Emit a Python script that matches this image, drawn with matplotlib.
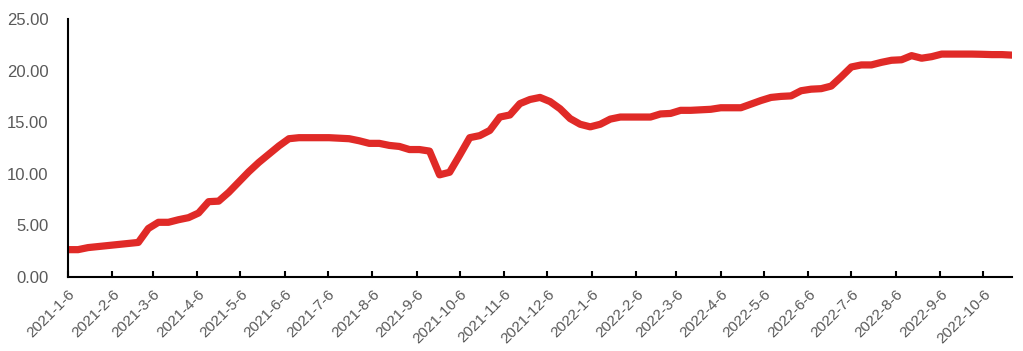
import matplotlib
matplotlib.use("Agg")
import matplotlib.pyplot as plt
import numpy as np
import pandas as pd

plt.rcParams['font.family'] = ['Liberation Sans', 'DejaVu Sans']

start_date = "2021-01-06"
n_weeks = 95
values = [
    2.65, 2.65, 2.85, 2.95, 3.05, 3.15, 3.25, 3.35, 4.7, 5.3,
    5.3, 5.55, 5.75, 6.2, 7.3, 7.35, 8.2, 9.2, 10.2, 11.1,
    11.9, 12.7, 13.4, 13.5, 13.5, 13.5, 13.5, 13.45, 13.4, 13.2,
    12.95, 12.95, 12.75, 12.65, 12.35, 12.35, 12.2, 9.9, 10.15, 11.8,
    13.5, 13.7, 14.2, 15.5, 15.7, 16.8, 17.2, 17.4, 17.0, 16.3,
    15.35, 14.8, 14.55, 14.8, 15.3, 15.5, 15.5, 15.5, 15.5, 15.8,
    15.85, 16.15, 16.15, 16.2, 16.25, 16.4, 16.4, 16.4, 16.75, 17.1,
    17.4, 17.5, 17.55, 18.05, 18.2, 18.25, 18.5, 19.4, 20.35, 20.55,
    20.55, 20.8, 21.0, 21.05, 21.45, 21.2, 21.35, 21.6, 21.6, 21.6,
    21.6, 21.58, 21.55, 21.55, 21.5,
]
dates = pd.date_range(start_date, periods=n_weeks, freq="7D")
tick_dates = pd.date_range("2021-01-01", "2022-10-01", freq="MS") + pd.Timedelta(days=5)
tick_labels = [f"{d.year}-{d.month}-{d.day}" for d in tick_dates]
y_ticks = [0, 5, 10, 15, 20, 25]

fig = plt.figure(figsize=(10.23, 3.51), dpi=100)
ax = fig.add_axes([68/1023, 74/351, (1012-68)/1023, (277-19)/351])
ax.plot(dates, values, color="#E02A27", lw=5.2, solid_capstyle="round", solid_joinstyle="round")

ax.set_xlim(dates[0], dates[-1])
ax.set_ylim(0, 25)
ax.set_yticks(y_ticks)
ax.set_yticklabels([f"{v:.2f}" for v in y_ticks])
ax.set_xticks(tick_dates)
ax.set_xticklabels(tick_labels, rotation=45, ha="right", va="top", rotation_mode="anchor")

for s in ["top", "right"]:
    ax.spines[s].set_visible(False)
for s in ["left", "bottom"]:
    ax.spines[s].set_color("black")
    ax.spines[s].set_linewidth(1.5)

ax.tick_params(axis="x", direction="in", length=4, width=1.5, color="black",
               labelsize=11, labelcolor="#595959", pad=7)
ax.tick_params(axis="y", length=0, labelsize=12, labelcolor="#595959", pad=14)

fig.savefig("out.png", dpi=100)
